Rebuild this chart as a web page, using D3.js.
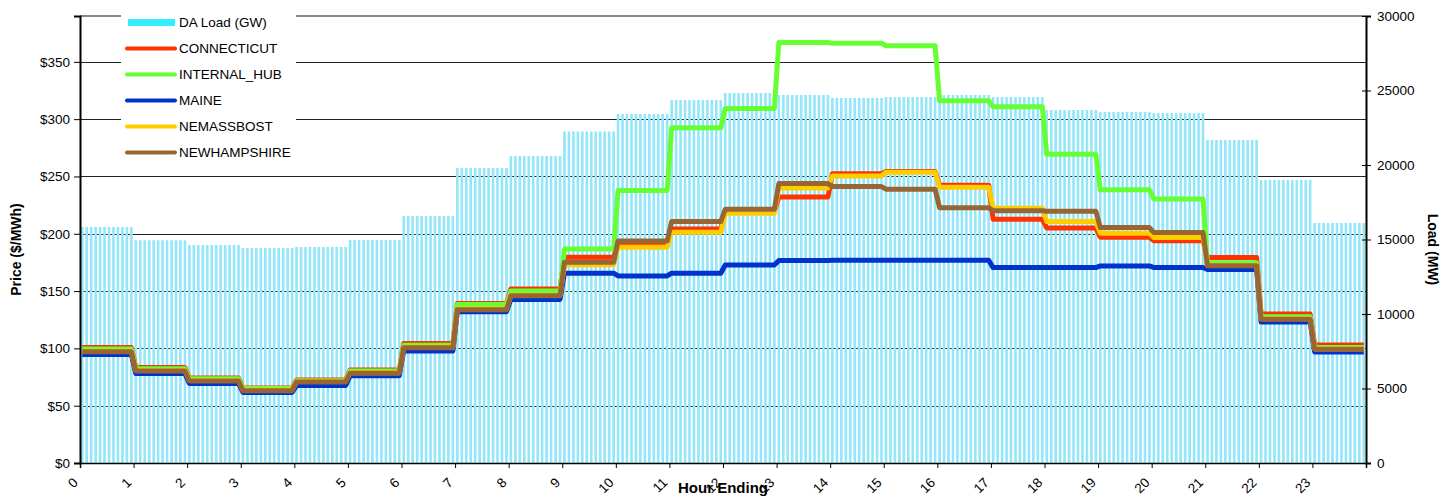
<!DOCTYPE html>
<html>
<head>
<meta charset="utf-8">
<script src="https://cdn.jsdelivr.net/npm/d3@7"></script>
<style>
  html, body { margin: 0; padding: 0; background: #fff; }
  svg { display: block; font-family: "Liberation Sans", Arial, sans-serif; }
</style>
</head>
<body>
<svg id="chart" width="1449" height="498"></svg>
<script>
// ---- data (hourly values, drawn at 5-minute resolution: 12 slots per hour) ----
const hourLabels = ["0","1","2","3","4","5","6","7","8","9","10","11","12","13","14","15","16","17","18","19","20","21","22","23"];
const daLoadMW = [15840, 14950, 14630, 14430, 14500, 14970, 16580, 19800, 20600, 22250, 23420, 24360, 24830, 24700, 24500, 24560, 24700, 24560, 23690, 23560, 23490, 21680, 18990, 16110];
const connecticut = [100.8, 83.4, 74.2, 65.5, 72.4, 81.2, 104.3, 139.2, 151.9, 179.5, 190.9, 204.2, 219.4, 232.0, 252.4, 254.4, 242.4, 212.7, 205.1, 197.0, 194.0, 179.4, 130.0, 103.0];
const internalHub = [99.5, 82.3, 73.5, 64.9, 71.8, 80.3, 102.7, 138.2, 150.1, 186.7, 237.8, 292.4, 309.4, 366.8, 366.3, 364.0, 316.0, 310.8, 269.4, 238.3, 230.4, 174.8, 127.7, 100.7];
const maine = [94.7, 78.0, 69.4, 61.5, 67.6, 76.1, 97.8, 132.0, 142.7, 165.6, 163.2, 165.6, 172.8, 176.6, 176.9, 176.9, 176.9, 170.5, 170.5, 171.9, 170.5, 168.9, 123.0, 96.9];
const nemassbost = [97.5, 80.8, 72.0, 63.6, 71.2, 78.8, 101.0, 134.3, 146.4, 173.0, 188.3, 201.4, 218.0, 240.0, 250.5, 253.7, 240.6, 222.3, 210.6, 200.5, 196.7, 172.5, 125.8, 99.5];
const newhampshire = [97.0, 80.3, 71.6, 63.1, 70.7, 78.3, 100.6, 133.8, 146.0, 175.2, 193.8, 210.6, 221.4, 243.8, 241.2, 238.9, 222.8, 220.0, 219.7, 205.4, 201.0, 172.2, 125.4, 99.2];
const priceTicks = [0, 50, 100, 150, 200, 250, 300, 350];
const loadTicks = [0, 5000, 10000, 15000, 20000, 25000, 30000];
const seriesNames = ["CONNECTICUT", "INTERNAL_HUB", "MAINE", "NEMASSBOST", "NEWHAMPSHIRE"];
const seriesColors = ["#FF3300", "#66FF33", "#0033CC", "#FFCC00", "#996633"];
const seriesValues = [connecticut, internalHub, maine, nemassbost, newhampshire];

const slotsPerHour = 12;
const slots = d3.range(hourLabels.length * slotsPerHour);

// ---- layout ----
const L = 80, R = 1366, T = 16, B = 463;
const svg = d3.select("#chart");

const xBand = d3.scaleBand().domain(slots).range([L, R]).paddingInner(0.4).paddingOuter(0.2);
const xHour = d3.scaleLinear().domain([0, 24]).range([L, R]);
const yPrice = d3.scaleLinear().domain([0, 390]).range([B, T]);
const yLoad = d3.scaleLinear().domain([0, 30000]).range([B, T]);

// gridlines
svg.append("g").selectAll("line").data(priceTicks.filter(d => d > 0)).join("line")
  .attr("x1", L).attr("x2", R)
  .attr("y1", d => Math.round(yPrice(d)) + 0.5).attr("y2", d => Math.round(yPrice(d)) + 0.5)
  .attr("stroke", "#222").attr("stroke-width", 1);
// top border
svg.append("line").attr("x1", L).attr("x2", R).attr("y1", T).attr("y2", T)
  .attr("stroke", "#888").attr("stroke-width", 2);

// bars (load)
svg.append("g").selectAll("rect").data(slots).join("rect")
  .attr("x", i => xBand(i))
  .attr("width", xBand.bandwidth())
  .attr("y", i => yLoad(daLoadMW[Math.floor(i / slotsPerHour)]))
  .attr("height", i => B - yLoad(daLoadMW[Math.floor(i / slotsPerHour)]))
  .attr("fill", "#96e6fa");

// lines
const line = d3.line()
  .x(i => xBand(i) + xBand.bandwidth() / 2);
seriesValues.forEach((vals, k) => {
  svg.append("path")
    .datum(slots)
    .attr("d", line.y(i => yPrice(vals[Math.floor(i / slotsPerHour)])))
    .attr("fill", "none")
    .attr("stroke", seriesColors[k])
    .attr("stroke-width", 5)
    .attr("stroke-linejoin", "round");
});

// axes
const axL = svg.append("g").attr("transform", `translate(${L},0)`)
  .call(d3.axisLeft(yPrice).tickValues(priceTicks).tickFormat(d => "$" + d).tickSize(6).tickPadding(4));
const axR = svg.append("g").attr("transform", `translate(${R},0)`)
  .call(d3.axisRight(yLoad).tickValues(loadTicks).tickFormat(d => d).tickSize(5).tickPadding(6));
axR.selectAll(".tick line").attr("x1", -4);
const axB = svg.append("g").attr("transform", `translate(0,${B})`)
  .call(d3.axisBottom(xHour).tickValues(d3.range(0, 24)).tickFormat(d => hourLabels[d]).tickSize(5));
axB.selectAll(".tick text")
  .attr("text-anchor", "end")
  .attr("x", 0).attr("y", 0).attr("dx", 0).attr("dy", "0.35em")
  .attr("transform", "translate(-5,17) rotate(-45)");

[axL, axR, axB].forEach(a => {
  a.selectAll(".domain").attr("stroke", "#000").attr("stroke-width", 2);
  a.selectAll(".tick line").attr("stroke", "#000");
  a.selectAll("text").attr("fill", "#000").style("font-size", "13.5px")
    .style("font-family", '"Liberation Sans", Arial, sans-serif');
});
axB.select(".domain").attr("stroke-width", 1.5);

// axis titles
svg.append("text").attr("transform", `translate(21,${(T + B) / 2 + 10}) rotate(-90)`)
  .attr("text-anchor", "middle").style("font-weight", "bold").style("font-size", "14px")
  .text("Price ($/MWh)");
svg.append("text").attr("transform", `translate(1428,${(T + B) / 2 + 10}) rotate(90)`)
  .attr("text-anchor", "middle").style("font-weight", "bold").style("font-size", "14px")
  .text("Load (MW)");
svg.append("text").attr("x", 723).attr("y", 493)
  .attr("text-anchor", "middle").style("font-weight", "bold").style("font-size", "15px")
  .text("Hour Ending");

// legend
const legend = svg.append("g");
legend.append("rect").attr("x", 121).attr("y", 14).attr("width", 175).attr("height", 152).attr("fill", "#fff");
const legendItems = [{ name: "DA Load (GW)", color: "#33EEFF", bar: true }]
  .concat(seriesNames.map((n, k) => ({ name: n, color: seriesColors[k], bar: false })));
legendItems.forEach((it, k) => {
  const cy = 22.5 + k * 26;
  if (it.bar) {
    legend.append("rect").attr("x", 128).attr("y", cy - 3.5).attr("width", 47).attr("height", 7).attr("fill", it.color);
  } else {
    legend.append("line").attr("x1", 127).attr("x2", 175).attr("y1", cy).attr("y2", cy)
      .attr("stroke", it.color).attr("stroke-width", 4).attr("stroke-linecap", "round");
  }
  legend.append("text").attr("x", 179).attr("y", cy).attr("dy", "0.35em")
    .style("font-size", "13.5px").text(it.name);
});
</script>
</body>
</html>
